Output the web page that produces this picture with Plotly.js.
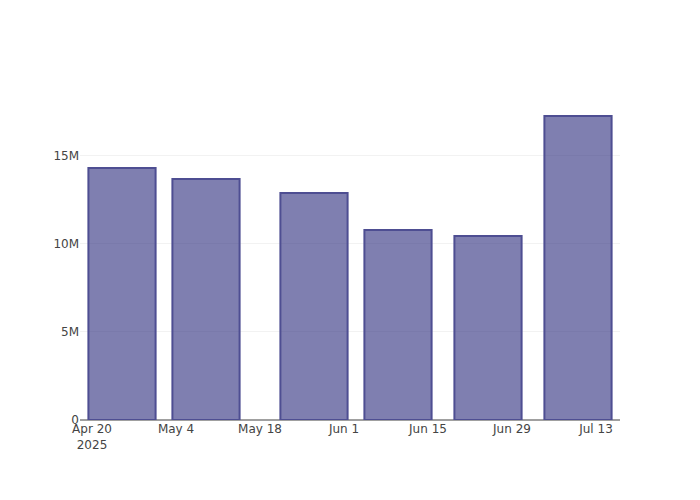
<!DOCTYPE html>
<html>
<head>
<meta charset="utf-8">
<script src="https://cdn.plot.ly/plotly-3.0.1.min.js"></script>
<style>html,body{margin:0;padding:0;background:#fff;}#chart{width:700px;height:500px;}</style>
</head>
<body>
<div id="chart"></div>
<script>
const dates = ['2025-04-25', '2025-05-09', '2025-05-27', '2025-06-10', '2025-06-25', '2025-07-10'];
const values = [14320000, 13690000, 12900000, 10800000, 10450000, 17270000];

const trace = {
  type: 'bar',
  x: dates,
  y: values,
  marker: {
    color: 'rgba(42,42,123,0.6)',
    line: {color: 'rgb(78,78,146)', width: 2}
  }
};

const layout = {
  width: 700,
  height: 500,
  margin: {l: 80, r: 80, t: 100, b: 80},
  font: {family: '"DejaVu Sans", verdana, sans-serif', size: 12, color: '#444'},
  paper_bgcolor: '#fff',
  plot_bgcolor: '#fff',
  xaxis: {type: 'date'},
  yaxis: {gridcolor: '#f2f2f2', zerolinecolor: '#a0a0a0', zerolinewidth: 2},
  showlegend: false
};

Plotly.newPlot('chart', [trace], layout, {displayModeBar: false});
</script>
</body>
</html>
